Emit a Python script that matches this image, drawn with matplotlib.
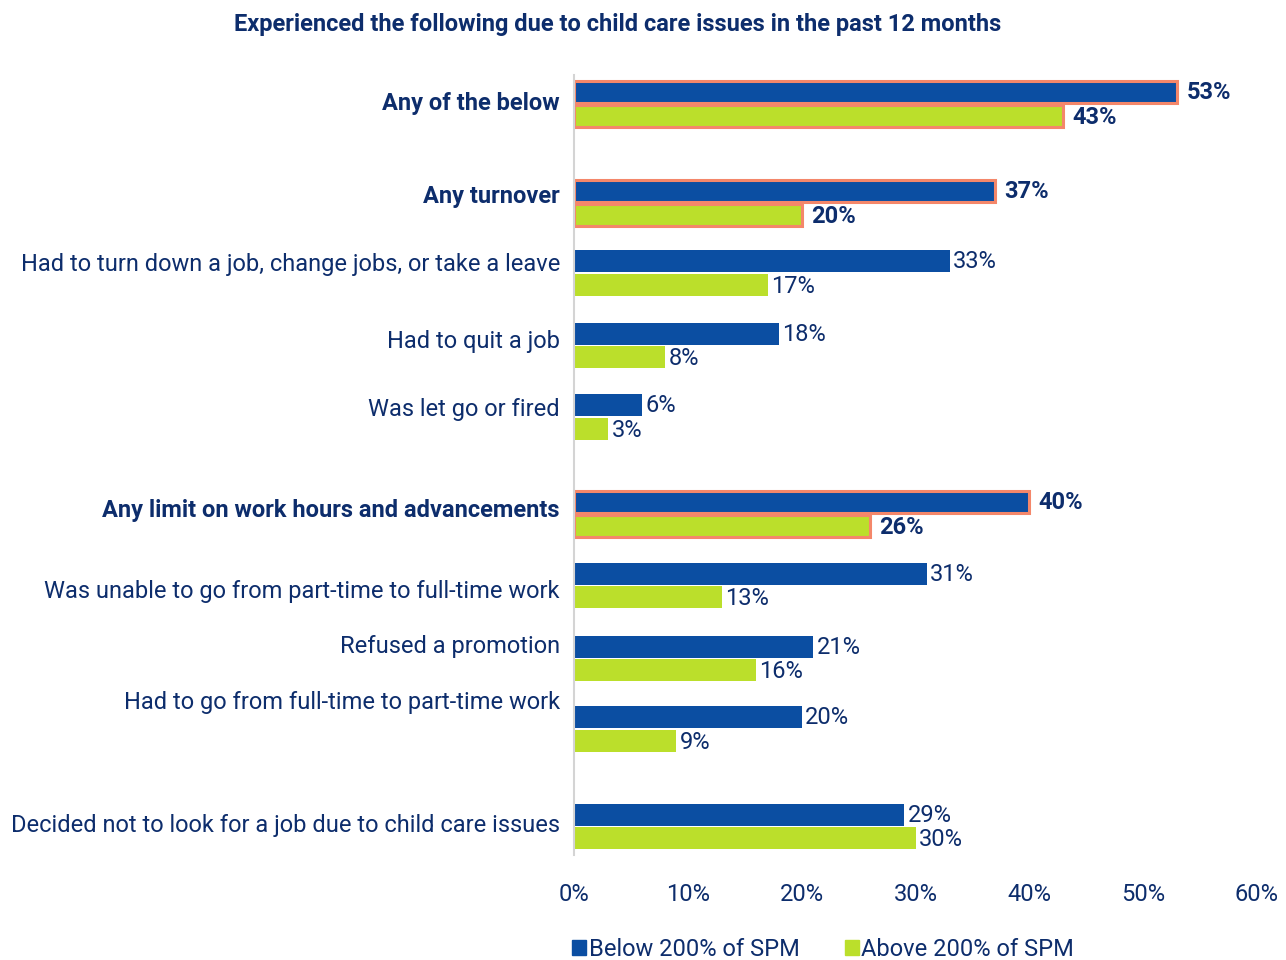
import matplotlib.pyplot as plt
from matplotlib.patches import Patch

# data
categories = [
    "Any of the below",
    "Any turnover",
    "Had to turn down a job, change jobs, or take a leave",
    "Had to quit a job",
    "Was let go or fired",
    "Any limit on work hours and advancements",
    "Was unable to go from part-time to full-time work",
    "Refused a promotion",
    "Had to go from full-time to part-time work",
    "Decided not to look for a job due to child care issues",
]
below_spm = [53, 37, 33, 18, 6, 40, 31, 21, 20, 29]
above_spm = [43, 20, 17, 8, 3, 26, 13, 16, 9, 30]
highlight = [True, True, False, False, False, True, False, False, False, False]
series_names = ["Below 200% of SPM", "Above 200% of SPM"]
xticks = [0, 10, 20, 30, 40, 50, 60]

# layout (pixel rows of the reference)
blue_y = [92, 191, 261, 334, 405, 502, 574, 647, 717, 815]
green_y = [116, 215, 285, 357, 429, 526, 597, 670, 741, 838]
label_y = [104, 197, 265, 342, 410, 511, 592, 647, 703, 826]

NAVY = "#0d2d6c"
BLUE = "#0b4ea2"
GREEN = "#bbdf2b"
EDGE = "#f4876a"
plt.rcParams['font.family'] = ['Roboto', 'DejaVu Sans']
FS = 17

W, H = 1286, 960
fig = plt.figure(figsize=(W / 100, H / 100), dpi=100)
ax = fig.add_axes([574 / W, 1 - 855 / H, (1257 - 574) / W, (855 - 75) / H])
ax.set_xlim(0, 60)
ax.set_ylim(855, 75)

bh = 22
for i in range(len(categories)):
    hl = highlight[i]
    kw = dict(edgecolor=EDGE, linewidth=2.2) if hl else dict(linewidth=0)
    ax.barh(blue_y[i], below_spm[i], height=bh, color=BLUE, **kw)
    ax.barh(green_y[i], above_spm[i], height=bh, color=GREEN, **kw)
    wt = 'bold' if hl else 'normal'
    off = 0.8 if hl else 0.3
    ax.text(below_spm[i] + off, blue_y[i] + 1, f"{below_spm[i]}%", va='center', ha='left',
            fontsize=FS, color=NAVY, fontweight=wt)
    ax.text(above_spm[i] + off, green_y[i] + 2, f"{above_spm[i]}%", va='center', ha='left',
            fontsize=FS, color=NAVY, fontweight=wt)
    ax.text(-14 / 683, label_y[i], categories[i], transform=ax.get_yaxis_transform(),
            ha='right', va='center', fontsize=FS, color=NAVY, fontweight=wt)

for s in ['top', 'right', 'bottom']:
    ax.spines[s].set_visible(False)
ax.spines['left'].set_color('#d4d4d4')
ax.spines['left'].set_linewidth(1.5)
ax.set_yticks([])
ax.set_xticks(xticks)
ax.set_xticklabels([f"{t}%" for t in xticks])
ax.tick_params(axis='x', length=0, pad=20, labelsize=FS, labelcolor=NAVY)

fig.text(618 / W, 1 - 25 / H, "Experienced the following due to child care issues in the past 12 months",
         ha='center', va='center', fontsize=17, fontweight='bold', color=NAVY)

handles = [Patch(color=BLUE), Patch(color=GREEN)]
fig.legend(handles, series_names, loc='center left', bbox_to_anchor=(551 / W, 1 - 949 / H),
           ncol=2, frameon=False, handlelength=0.6, handleheight=0.6, handletextpad=0.1,
           columnspacing=1.9, fontsize=FS, labelcolor=NAVY)

fig.savefig("out.png", dpi=100)
